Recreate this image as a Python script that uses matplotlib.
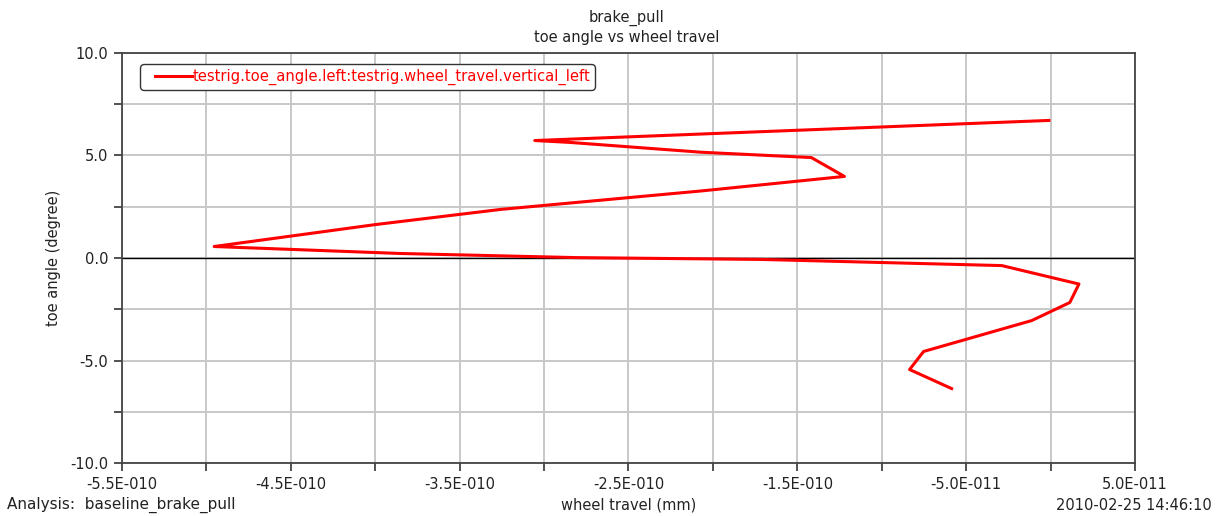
import matplotlib.pyplot as plt
from matplotlib.lines import Line2D
from matplotlib.legend_handler import HandlerLine2D
import numpy as np

plt.rcParams['font.family'] = ['DejaVu Sans']

# toe angle vs wheel travel, left side of the test rig
wheel_travel = np.array([
    -0.010, -3.055, -2.850, -2.070, -1.417, -1.221, -2.070, -3.257, -3.999, -4.954,
    -3.850, -2.812, -1.714, -1.001, -0.289, 0.168, 0.114, -0.111, -0.752, -0.835, -0.586,
]) * 1e-10
toe_angle = [
    6.71, 5.73, 5.64, 5.16, 4.90, 3.98, 3.27, 2.37, 1.63, 0.56,
    0.22, 0.02, -0.07, -0.22, -0.37, -1.27, -2.17, -3.05, -4.56, -5.44, -6.37,
]

x_ticks = np.arange(-5.5, 0.51, 0.5) * 1e-10
x_labels = ['-5.5E-010', '', '-4.5E-010', '', '-3.5E-010', '', '-2.5E-010', '',
            '-1.5E-010', '', '-5.0E-011', '', '5.0E-011']
y_ticks = np.arange(-10, 10.1, 2.5)
y_labels = ['-10.0', '', '-5.0', '', '0.0', '', '5.0', '', '10.0']

fig = plt.figure(figsize=(12.22, 5.16), dpi=100)
ax = fig.add_axes([0.0998, 0.1027, 0.829, 0.7946])

ax.plot(wheel_travel, toe_angle, color='red', lw=2.2,
        label='testrig.toe_angle.left:testrig.wheel_travel.vertical_left', zorder=3)
ax.axhline(0, color='black', lw=1.0, zorder=2)

ax.set_xlim(-5.5e-10, 0.5e-10)
ax.set_ylim(-10, 10)
ax.set_xticks(x_ticks)
ax.set_xticklabels(x_labels)
ax.set_yticks(y_ticks)
ax.set_yticklabels(y_labels)
ax.grid(True, color='#c8c8c8', lw=1.4, zorder=1)
ax.tick_params(direction='out', length=6, width=1.2, labelsize=10.5, pad=4,
               colors='#333333', labelcolor='#222222')
for s in ax.spines.values():
    s.set_color('#444444')
    s.set_linewidth(1.3)

ax.set_xlabel('wheel travel (mm)', fontsize=10.5, color='#222222', va='center')
ax.set_ylabel('toe angle (degree)', fontsize=10.5, color='#222222', va='center')
ax.xaxis.set_label_coords(0.5, -0.102)
ax.yaxis.set_label_coords(-0.068, 0.5)

fig.text(0.513, 0.965, 'brake_pull', ha='center', va='center', fontsize=10.5, color='#222222')
fig.text(0.513, 0.928, 'toe angle vs wheel travel', ha='center', va='center', fontsize=10.5,
         color='#222222')
fig.text(0.006, 0.021, 'Analysis:  baseline_brake_pull', ha='left', va='center',
         fontsize=11, color='#222222')
fig.text(0.992, 0.021, '2010-02-25 14:46:10', ha='right', va='center', fontsize=10.5,
         color='#222222')

leg = ax.legend(loc='upper left', bbox_to_anchor=(0.0208, 0.966), borderaxespad=0,
                fontsize=10.6, labelcolor='red', handlelength=3.2, handletextpad=0.0,
                borderpad=0.15, fancybox=True, framealpha=1, edgecolor='#333333',
                handler_map={Line2D: HandlerLine2D(xpad=0.65)})
leg.get_frame().set_linewidth(1.0)
leg.get_frame().set_boxstyle('round', pad=0.2, rounding_size=0.3)

fig.savefig('out.png', dpi=100)
